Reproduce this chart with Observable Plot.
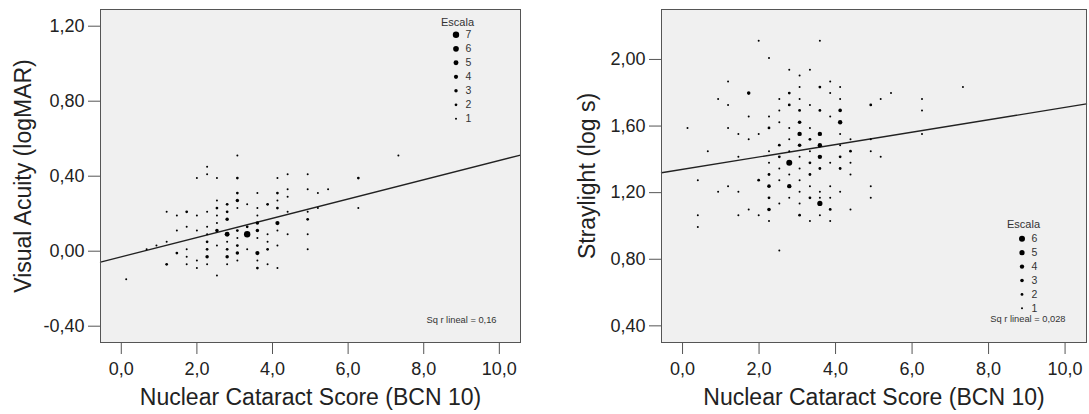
<!DOCTYPE html>
<html><head><meta charset="utf-8">
<script src="https://cdn.jsdelivr.net/npm/d3@7"></script>
<script src="https://cdn.jsdelivr.net/npm/@observablehq/plot@0.6"></script>
<style>
body{margin:0;background:#fff;}
#wrap{width:1089px;height:414px;display:flex;flex-direction:row;}
#wrap svg{display:block;flex:none;max-width:none;}
</style></head><body><div id="wrap"></div>
<script>
// ---------- shared ----------
const xLabel = "Nuclear Cataract Score (BCN 10)";
const xTicks = [0, 2, 4, 6, 8, 10];
const xDomain = [-0.55, 10.56];

// ---------- left panel: Visual Acuity ----------
const leftYLabel = "Visual Acuity (logMAR)";
const leftYTicks = [-0.4, 0, 0.4, 0.8, 1.2];
const leftYDomain = [-0.487, 1.289];
const leftX = [
  0.13,
  0.67,
  0.93,
  1.2, 1.2, 1.2,
  1.47, 1.47, 1.47,
  1.73, 1.73, 1.73, 1.73, 1.73,
  2.0, 2.0, 2.0, 2.0, 2.0,
  2.27, 2.27, 2.27, 2.27, 2.27, 2.27, 2.27, 2.27, 2.27,
  2.53, 2.53, 2.53, 2.53, 2.53, 2.53, 2.53, 2.53,
  2.8, 2.8, 2.8, 2.8, 2.8, 2.8, 2.8, 2.8,
  3.07, 3.07, 3.07, 3.07, 3.07, 3.07, 3.07, 3.07, 3.07, 3.07,
  3.33, 3.33, 3.33, 3.33,
  3.6, 3.6, 3.6, 3.6, 3.6, 3.6, 3.6, 3.6, 3.6,
  3.87, 3.87, 3.87, 3.87, 3.87,
  4.13, 4.13, 4.13, 4.13, 4.13, 4.13, 4.13, 4.13,
  4.4, 4.4, 4.4, 4.4, 4.4,
  4.93, 4.93, 4.93, 4.93, 4.93, 4.93,
  5.2, 5.2,
  5.47,
  6.27, 6.27,
  7.33
];
const leftY = [
  -0.15,
  0.01,
  0.03,
  0.21, 0.05, -0.07,
  0.19, 0.11, -0.01,
  0.21, 0.13, 0.01, -0.03, -0.07,
  0.39, 0.19, 0.11, -0.05, -0.09,
  0.45, 0.41, 0.21, 0.13, 0.09, 0.05, 0.01, -0.03, -0.07,
  0.39, 0.27, 0.23, 0.19, 0.15, 0.11, 0.03, -0.13,
  0.25, 0.21, 0.17, 0.09, 0.05, 0.01, -0.03, -0.07,
  0.51, 0.39, 0.31, 0.27, 0.23, 0.11, 0.07, 0.03, -0.01, -0.05,
  0.25, 0.13, 0.09, 0.01,
  0.31, 0.23, 0.19, 0.15, 0.11, 0.07, -0.01, -0.05, -0.09,
  0.25, 0.09, 0.05, 0.01, -0.07,
  0.39, 0.31, 0.27, 0.23, 0.15, 0.11, 0.03, -0.09,
  0.41, 0.33, 0.29, 0.21, 0.09,
  0.41, 0.33, 0.21, 0.17, 0.09, 0.01,
  0.31, 0.23,
  0.33,
  0.39, 0.23,
  0.51
];
const leftN = [
  1,
  1,
  1,
  1, 1, 2,
  1, 1, 2,
  2, 1, 1, 1, 1,
  1, 1, 1, 1, 1,
  1, 1, 1, 1, 1, 2, 2, 3, 1,
  1, 1, 2, 1, 1, 3, 1, 1,
  2, 2, 3, 5, 1, 2, 3, 1,
  1, 2, 2, 3, 1, 2, 1, 2, 3, 1,
  1, 2, 7, 1,
  1, 1, 1, 3, 3, 1, 4, 1, 2,
  2, 1, 1, 2, 1,
  1, 2, 1, 2, 4, 1, 1, 1,
  1, 1, 1, 1, 1,
  1, 1, 1, 2, 1, 1,
  1, 1,
  1,
  2, 1,
  1
];
const leftFit = [-0.030, 0.0514];      // intercept, slope
const leftLegend = [7, 6, 5, 4, 3, 2, 1];
const leftRsq = "Sq r lineal = 0,16";

// ---------- right panel: Straylight ----------
const rightYLabel = "Straylight (log s)";
const rightYTicks = [0.4, 0.8, 1.2, 1.6, 2.0];
const rightYDomain = [0.30, 2.30];
const rightX = [
  0.13,
  0.40, 0.40, 0.40,
  0.66,
  0.93, 0.93,
  1.19, 1.19, 1.19, 1.19,
  1.46, 1.46, 1.46, 1.46,
  1.73, 1.73, 1.73, 1.73,
  1.99, 1.99, 1.99, 1.99,
  2.26, 2.26, 2.26, 2.26, 2.26, 2.26, 2.26, 2.26, 2.26, 2.26,
  2.53, 2.53, 2.53, 2.53, 2.53, 2.53, 2.53, 2.53, 2.53,
  2.79, 2.79, 2.79, 2.79, 2.79, 2.79, 2.79, 2.79, 2.79, 2.79,
  3.06, 3.06, 3.06, 3.06, 3.06, 3.06, 3.06, 3.06, 3.06, 3.06, 3.06, 3.06, 3.06,
  3.33, 3.33, 3.33, 3.33, 3.33, 3.33, 3.33, 3.33, 3.33, 3.33,
  3.59, 3.59, 3.59, 3.59, 3.59, 3.59, 3.59, 3.59, 3.59, 3.59, 3.59,
  3.86, 3.86, 3.86, 3.86, 3.86, 3.86, 3.86, 3.86,
  4.12, 4.12, 4.12, 4.12, 4.12, 4.12, 4.12, 4.12, 4.12,
  4.39, 4.39, 4.39, 4.39, 4.39,
  4.92, 4.92, 4.92, 4.92, 4.92,
  5.18, 5.18,
  5.45,
  6.26, 6.26, 6.26,
  7.33
];
const rightY = [
  1.589,
  1.275, 1.065, 0.993,
  1.449,
  1.763, 1.205,
  1.868, 1.727, 1.589, 1.239,
  1.553, 1.415, 1.205, 1.065,
  1.798, 1.658, 1.520, 1.099,
  2.112, 1.553, 1.275, 1.065,
  2.008, 1.658, 1.589, 1.449, 1.379, 1.309, 1.239, 1.169, 1.099, 1.029,
  1.763, 1.694, 1.623, 1.485, 1.415, 1.345, 1.275, 1.135, 0.853,
  1.938, 1.798, 1.727, 1.589, 1.520, 1.449, 1.379, 1.309, 1.239, 1.169,
  1.904, 1.834, 1.763, 1.694, 1.623, 1.553, 1.485, 1.415, 1.345, 1.275, 1.205, 1.135, 1.065,
  1.938, 1.727, 1.589, 1.520, 1.449, 1.379, 1.309, 1.239, 1.169, 1.029,
  2.112, 1.834, 1.694, 1.553, 1.485, 1.415, 1.345, 1.205, 1.169, 1.135, 1.065,
  1.868, 1.798, 1.658, 1.379, 1.239, 1.169, 1.099, 1.029,
  1.834, 1.763, 1.694, 1.623, 1.553, 1.485, 1.415, 1.345, 1.205,
  1.520, 1.449, 1.379, 1.309, 1.099,
  1.727, 1.520, 1.449, 1.239, 1.169,
  1.763, 1.415,
  1.798,
  1.763, 1.694, 1.553,
  1.834
];
const rightN = [
  1,
  1, 1, 1,
  1,
  1, 1,
  1, 1, 1, 1,
  1, 1, 1, 1,
  3, 1, 1, 1,
  1, 1, 2, 1,
  1, 1, 2, 1, 1, 2, 3, 2, 3, 1,
  1, 1, 1, 2, 2, 1, 1, 1, 1,
  1, 2, 2, 1, 1, 1, 6, 1, 4, 1,
  1, 1, 1, 2, 3, 4, 3, 1, 1, 1, 1, 1, 2,
  1, 1, 1, 2, 1, 2, 2, 1, 2, 1,
  1, 2, 2, 4, 4, 4, 2, 1, 1, 5, 1,
  1, 1, 1, 1, 1, 1, 2, 1,
  1, 1, 3, 4, 1, 1, 2, 2, 1,
  1, 2, 1, 1, 1,
  2, 1, 1, 1, 1,
  1, 1,
  1,
  1, 1, 1,
  1
];
const rightFit = [1.340, 0.0372];
const rightLegend = [6, 5, 4, 3, 2, 1];
const rightRsq = "Sq r lineal = 0,028";

// ---------- drawing ----------
const FONT = "'Liberation Sans', Arial, Helvetica, sans-serif";
const fmt = dec => d => d3.format("." + dec + "f")(d).replace("\u2212", "-").replace(".", ",");

function panel(o) {
  const idx = d3.range(o.xs.length);
  const legendMarks = [];
  o.legend.forEach((c, i) => {
    const dy = o.legDy0 + i * o.legStep;
    legendMarks.push(Plot.dot([c], {frameAnchor: o.legAnchor, dx: -64.5, dy, r: d => d, fill: "#000", stroke: "none"}));
    legendMarks.push(Plot.text([c], {frameAnchor: o.legAnchor, dx: -55, dy, text: d => String(d), textAnchor: "start", lineAnchor: "middle", fontSize: 10.5, fill: "#333"}));
  });
  legendMarks.push(Plot.text(["Escala"], {frameAnchor: o.legAnchor, dx: -63, dy: o.legTitleDy, text: d => d, textAnchor: "middle", lineAnchor: "middle", fontSize: 11, fill: "#333"}));
  return Plot.plot({
    width: o.width, height: 414,
    marginLeft: o.ml, marginRight: o.mr, marginTop: 9, marginBottom: 72,
    style: {fontFamily: FONT, background: "transparent", overflow: "visible"},
    x: {domain: xDomain},
    y: {domain: o.yDomain},
    r: {type: "linear", domain: [1, o.legend[0]], range: [1, o.rMax]},
    marks: [
      Plot.frame({fill: "#f0f0f0", stroke: "none"}),
      Plot.line(xDomain, {x: d => d, y: d => o.fit[0] + o.fit[1] * d, stroke: "#222", strokeWidth: 1.3}),
      Plot.dot(idx, {x: i => o.xs[i], y: i => o.ys[i], r: i => o.ns[i], fill: "#000", stroke: "none"}),
      Plot.frame({stroke: "#555", strokeWidth: 1}),
      Plot.axisX({ticks: xTicks, tickFormat: fmt(1), tickSize: 12, tickPadding: 8, fontSize: 18, stroke: "#555", fill: "#222", label: null}),
      Plot.axisY({ticks: o.yTicks, tickFormat: fmt(2), tickSize: 12, tickPadding: 4, fontSize: 18, stroke: "#555", fill: "#222", label: null}),
      Plot.text([xLabel], {frameAnchor: "bottom", dy: 55.6, text: d => d, textAnchor: "middle", lineAnchor: "middle", fontSize: 23, fill: "#222"}),
      Plot.text([o.yLabel], {frameAnchor: "left", dx: o.yLabelDx, text: d => d, rotate: -90, textAnchor: "middle", lineAnchor: "middle", fontSize: 23, fill: "#222"}),
      ...legendMarks,
      Plot.text([o.rsq], {frameAnchor: "bottom-right", dx: o.rsqDx, dy: o.rsqDy, text: d => d, textAnchor: "end", lineAnchor: "middle", fontSize: 9.3, fill: "#333"})
    ]
  });
}

const wrap = document.getElementById("wrap");
wrap.appendChild(panel({
  width: 545, ml: 100, mr: 25,
  xs: leftX, ys: leftY, ns: leftN, yDomain: leftYDomain, yTicks: leftYTicks,
  fit: leftFit, yLabel: leftYLabel, yLabelDx: -77,
  legend: leftLegend, rMax: 3.2, legAnchor: "top-right", legTitleDy: 12.7, legDy0: 25.3, legStep: 14,
  rsq: leftRsq, rsqDx: -24, rsqDy: -22
}));
wrap.appendChild(panel({
  width: 544, ml: 116, mr: 3,
  xs: rightX, ys: rightY, ns: rightN, yDomain: rightYDomain, yTicks: rightYTicks,
  fit: rightFit, yLabel: rightYLabel, yLabelDx: -74,
  legend: rightLegend, rMax: 3.0, legAnchor: "bottom-right", legTitleDy: -118.3, legDy0: -103.7, legStep: 13.9,
  rsq: rightRsq, rsqDx: -21, rsqDy: -23
}));
</script></body></html>
